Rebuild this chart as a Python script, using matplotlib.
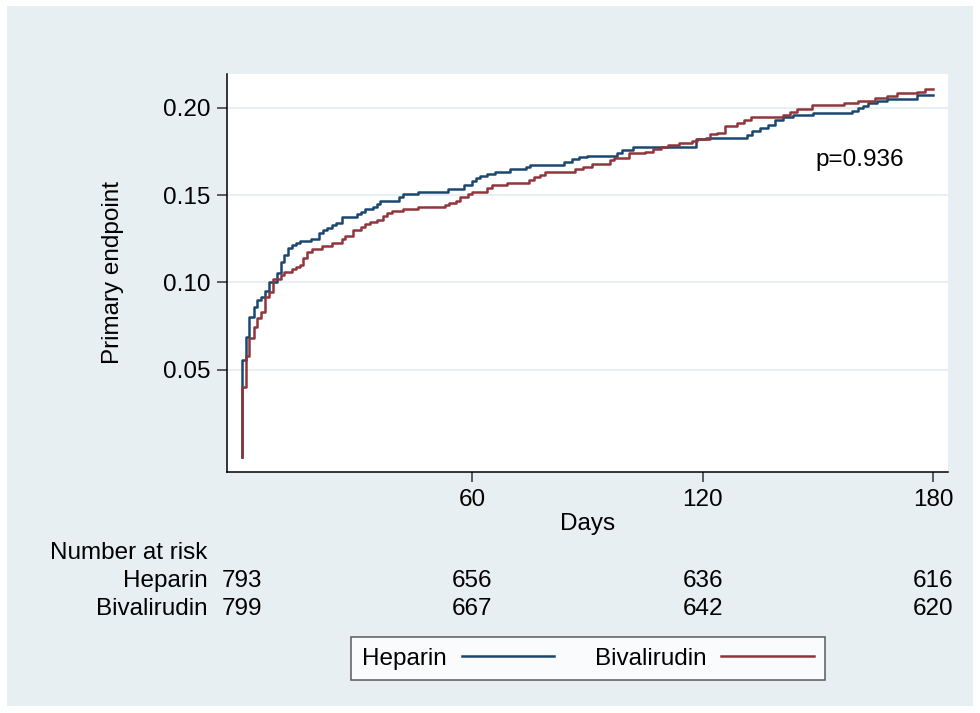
import numpy as np
import matplotlib
matplotlib.use("Agg")
import matplotlib.pyplot as plt
from matplotlib.patches import Rectangle
from matplotlib.transforms import blended_transform_factory

plt.rcParams['font.family'] = ['Liberation Sans', 'DejaVu Sans']

# ---------------- Data ------------------------------------------
heparin_days = [0, 1.1, 2.0, 3.1, 4.1, 5.1, 6.1, 7.2, 9.2, 10.2, 11.1, 12.2, 13.2, 14.2,
                15.2, 18.0, 20.2, 21.3, 22.3, 23.5, 24.6, 26.1, 30.0, 31.0, 32.0, 34.1,
                35.2, 36.0, 41.1, 42.0, 46.0, 53.8, 57.9, 59.9, 61.0, 62.1, 63.8, 66.0,
                69.9, 74.0, 75.1, 83.9, 85.9, 87.9, 89.8, 97.8, 99.0, 102.0, 118.3, 121.0,
                131.6, 132.8, 135.0, 137.1, 138.9, 141.0, 143.6, 148.8, 158.8, 160.5,
                161.9, 163.1, 165.3, 167.9, 175.7]
heparin_cum = [0.0556, 0.0686, 0.0800, 0.0860, 0.0900, 0.0915, 0.0953, 0.1004, 0.1056,
               0.1119, 0.1157, 0.1195, 0.1214, 0.1224, 0.1237, 0.1247, 0.1285, 0.1300,
               0.1313, 0.1329, 0.1342, 0.1376, 0.1390, 0.1403, 0.1418, 0.1434, 0.1447,
               0.1468, 0.1491, 0.1508, 0.1518, 0.1533, 0.1558, 0.1580, 0.1600, 0.1610,
               0.1620, 0.1632, 0.1648, 0.1659, 0.1672, 0.1691, 0.1705, 0.1716, 0.1726,
               0.1739, 0.1758, 0.1777, 0.1820, 0.1825, 0.1844, 0.1869, 0.1882, 0.1901,
               0.1930, 0.1946, 0.1959, 0.1972, 0.1983, 0.1997, 0.2010, 0.2026, 0.2039,
               0.2052, 0.2073]

bival_days = [0, 1.1, 2.0, 3.1, 4.1, 5.1, 6.1, 7.2, 8.1, 10.2, 11.1, 13.2, 14.2, 15.2,
              16.1, 17.1, 18.3, 20.9, 23.5, 26.1, 26.9, 28.9, 31.0, 32.1, 33.3, 35.2,
              36.9, 37.9, 39.1, 42.0, 46.0, 53.0, 54.1, 55.8, 56.9, 59.0, 59.9, 64.0,
              65.1, 69.0, 74.9, 76.1, 77.7, 79.0, 86.8, 89.0, 91.2, 95.9, 96.9, 100.9,
              105.0, 107.2, 109.1, 111.1, 114.0, 117.2, 118.5, 121.9, 123.7, 125.8,
              128.9, 130.8, 132.5, 141.0, 142.7, 144.7, 148.4, 156.8, 160.5, 164.9,
              167.9, 170.5, 175.7, 177.9]
bival_cum = [0.0403, 0.0578, 0.0683, 0.0743, 0.0794, 0.0832, 0.0918, 0.0947, 0.1018,
             0.1042, 0.1061, 0.1075, 0.1086, 0.1100, 0.1138, 0.1176, 0.1190, 0.1210,
             0.1227, 0.1247, 0.1266, 0.1300, 0.1315, 0.1334, 0.1348, 0.1357, 0.1380,
             0.1395, 0.1409, 0.1418, 0.1430, 0.1443, 0.1453, 0.1468, 0.1491, 0.1504,
             0.1520, 0.1539, 0.1558, 0.1571, 0.1586, 0.1602, 0.1615, 0.1634, 0.1648,
             0.1663, 0.1678, 0.1701, 0.1711, 0.1739, 0.1749, 0.1762, 0.1774, 0.1787,
             0.1800, 0.1812, 0.1820, 0.1850, 0.1857, 0.1896, 0.1911, 0.1930, 0.1946,
             0.1959, 0.1974, 0.1991, 0.2016, 0.2029, 0.2041, 0.2054, 0.2069, 0.2083,
             0.2092, 0.2106]

end_day = 180
risk_days = [0, 60, 120, 180]
risk_heparin = [793, 656, 636, 616]
risk_bival = [799, 667, 642, 620]

groups = ["Heparin", "Bivalirudin"]
colors = ["#1a476f", "#90353b"]

FS = 17.5

# ---------------- Figure -----------------
fig = plt.figure(figsize=(9.8, 7.13), dpi=100)
fig.patch.set_facecolor("white")
fig.patches.append(Rectangle((7/980, 7/713), 966/980, 700/713, transform=fig.transFigure,
                             facecolor="#e8eff2", edgecolor="none", zorder=-10))

ax = fig.add_axes([227/980, 1 - 472/713, 721/980, 398/713])
ax.set_facecolor("white")

for days, cum, name, c in [(heparin_days, heparin_cum, groups[0], colors[0]),
                           (bival_days, bival_cum, groups[1], colors[1])]:
    x = [0] + days + [end_day]
    y = [0] + cum + [cum[-1]]
    ax.plot(x, y, drawstyle="steps-post", color=c, lw=1.8, label=name)

ax.set_xlim(-3.8, 183.9)
ax.set_ylim(-0.0086, 0.2193)
ax.set_xticks([60, 120, 180])
ax.set_yticks([0.05, 0.10, 0.15, 0.20])
ax.set_yticklabels(["0.05", "0.10", "0.15", "0.20"])
ax.tick_params(axis="both", labelsize=FS, length=7, width=1.1, color="#333333", pad=5)
ax.grid(axis="y", color="#e8eff2", lw=1.5)
ax.grid(axis="x", visible=False)
ax.set_axisbelow(True)
for s in ["top", "right"]:
    ax.spines[s].set_visible(False)
for s in ["left", "bottom"]:
    ax.spines[s].set_linewidth(1.1)

ax.set_xlabel("Days", fontsize=FS)
ax.xaxis.set_label_coords(0.5, (472 - 524) / 398)
ax.set_ylabel("Primary endpoint", fontsize=FS)
ax.yaxis.set_label_coords((113 - 227) / 721, 0.5)
for lab in (ax.xaxis.label, ax.yaxis.label):
    lab.set_verticalalignment("center")

ax.text(149.3, 0.170, "p=0.936", fontsize=FS, ha="left", va="center")

# ---------------- Number at risk -----------------
tr = blended_transform_factory(ax.transData, fig.transFigure)
fig.text(50/980, 1 - 553/713, "Number at risk", fontsize=FS, ha="left", va="center")
fig.text(208/980, 1 - 581/713, groups[0], fontsize=FS, ha="right", va="center")
fig.text(208/980, 1 - 609/713, groups[1], fontsize=FS, ha="right", va="center")
for d, n1, n2 in zip(risk_days, risk_heparin, risk_bival):
    ax.text(d, 1 - 581/713, str(n1), transform=tr, fontsize=FS, ha="center", va="center")
    ax.text(d, 1 - 609/713, str(n2), transform=tr, fontsize=FS, ha="center", va="center")

# ---------------- Legend -----------------
leg = fig.legend(loc="center", bbox_to_anchor=(588/980, 1 - 658.5/713), ncol=2,
                 markerfirst=False, fontsize=FS, frameon=True, fancybox=False,
                 handlelength=3.8, handletextpad=0.6, columnspacing=1.7,
                 borderpad=0.45, borderaxespad=0)
leg.get_frame().set_edgecolor("#333333")
leg.get_frame().set_linewidth(1.1)

fig.savefig("out.png", dpi=100, facecolor=fig.get_facecolor())
